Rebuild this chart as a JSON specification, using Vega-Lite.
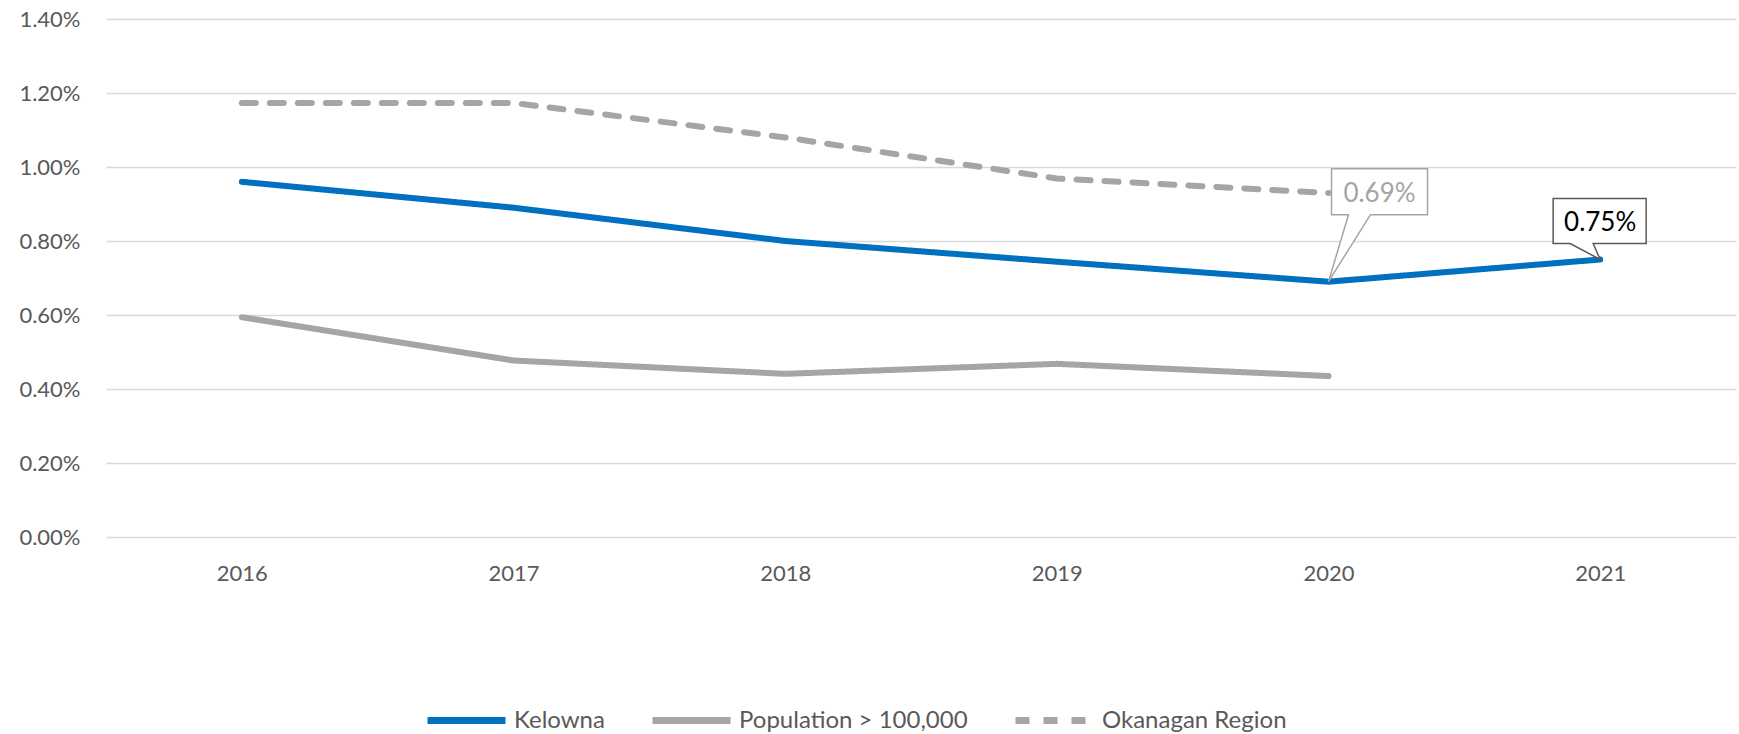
{
  "$schema": "https://vega.github.io/schema/vega-lite/v6.json",
  "width": 1630,
  "height": 518,
  "autosize": {"type": "none"},
  "padding": {"left": 106, "top": 19, "right": 3, "bottom": 197},
  "background": "white",
  "config": {
    "view": {"stroke": null},
    "font": "Lato",
    "axis": {
      "labelFont": "Lato",
      "labelColor": "#595959",
      "labelFontSize": 22,
      "gridColor": "#D9D9D9",
      "gridWidth": 1.5,
      "domain": false,
      "ticks": false,
      "title": null
    },
    "legend": {
      "labelFont": "Lato",
      "labelColor": "#595959",
      "labelFontSize": 24,
      "labelLimit": 500
    }
  },
  "datasets": {
    "series": [
      {"year": "2016", "series": "Kelowna", "value": 0.0096},
      {"year": "2017", "series": "Kelowna", "value": 0.0089},
      {"year": "2018", "series": "Kelowna", "value": 0.0080},
      {"year": "2019", "series": "Kelowna", "value": 0.00744},
      {"year": "2020", "series": "Kelowna", "value": 0.0069},
      {"year": "2021", "series": "Kelowna", "value": 0.0075},
      {"year": "2016", "series": "Population > 100,000", "value": 0.00594},
      {"year": "2017", "series": "Population > 100,000", "value": 0.00477},
      {"year": "2018", "series": "Population > 100,000", "value": 0.00441},
      {"year": "2019", "series": "Population > 100,000", "value": 0.00468},
      {"year": "2020", "series": "Population > 100,000", "value": 0.00435},
      {"year": "2016", "series": "Okanagan Region", "value": 0.01173},
      {"year": "2017", "series": "Okanagan Region", "value": 0.01173},
      {"year": "2018", "series": "Okanagan Region", "value": 0.0108},
      {"year": "2019", "series": "Okanagan Region", "value": 0.00969},
      {"year": "2020", "series": "Okanagan Region", "value": 0.0093}
    ],
    "callouts": [
      {"year": "2020", "value": 0.0069, "style": "muted"},
      {"year": "2021", "value": 0.0075, "style": "dark"}
    ]
  },
  "encoding": {
    "x": {
      "field": "year",
      "type": "ordinal",
      "scale": {"paddingInner": 0, "paddingOuter": 0},
      "axis": {"labelAngle": 0, "labelPadding": 26, "grid": false}
    },
    "y": {
      "field": "value",
      "type": "quantitative",
      "scale": {"domain": [0, 0.014], "nice": false},
      "axis": {
        "format": ".2%",
        "values": [0, 0.002, 0.004, 0.006, 0.008, 0.01, 0.012, 0.014],
        "labelPadding": 26,
        "grid": true
      }
    }
  },
  "layer": [
    {
      "data": {"name": "series"},
      "mark": {"type": "line", "strokeWidth": 6, "strokeCap": "round", "strokeJoin": "round"},
      "encoding": {
        "color": {
          "field": "series",
          "type": "nominal",
          "scale": {
            "domain": ["Kelowna", "Population > 100,000", "Okanagan Region"],
            "range": ["#0070C0", "#A5A5A5", "#A5A5A5"]
          },
          "legend": {
            "title": null,
            "orient": "none",
            "legendX": 318,
            "legendY": 659,
            "direction": "horizontal",
            "gridAlign": "none",
            "symbolType": "stroke",
            "symbolSize": 6084,
            "symbolStrokeWidth": 7,
            "labelOffset": 5,
            "columnPadding": 33
          }
        },
        "strokeDash": {
          "field": "series",
          "type": "nominal",
          "scale": {
            "domain": ["Kelowna", "Population > 100,000", "Okanagan Region"],
            "range": [[1, 0], [1, 0], [14, 14]]
          },
          "legend": null
        }
      }
    },
    {
      "data": {"name": "callouts"},
      "transform": [{"filter": "datum.style === 'muted'"}],
      "mark": {
        "type": "point",
        "shape": "M0,0 L20,-67 L3,-67 L3,-113 L99,-113 L99,-67 L42,-67 Z",
        "size": 4,
        "filled": true,
        "fill": "white",
        "fillOpacity": 1,
        "stroke": "#A5A5A5",
        "strokeWidth": 1.5,
        "opacity": 1
      }
    },
    {
      "data": {"name": "callouts"},
      "transform": [{"filter": "datum.style === 'muted'"}],
      "mark": {"type": "text", "dx": 51, "dy": -88, "fontSize": 26, "color": "#A5A5A5", "font": "Lato"},
      "encoding": {"text": {"field": "value", "type": "quantitative", "format": ".2%"}}
    },
    {
      "data": {"name": "callouts"},
      "transform": [{"filter": "datum.style === 'dark'"}],
      "mark": {
        "type": "point",
        "shape": "M0,0 L-7,-16 L46,-16 L46,-61 L-47,-61 L-47,-16 L-30,-16 Z",
        "size": 4,
        "filled": true,
        "fill": "white",
        "fillOpacity": 1,
        "stroke": "#595959",
        "strokeWidth": 1.5,
        "opacity": 1
      }
    },
    {
      "data": {"name": "callouts"},
      "transform": [{"filter": "datum.style === 'dark'"}],
      "mark": {"type": "text", "dx": 0, "dy": -37, "fontSize": 26, "color": "#000000", "font": "Lato"},
      "encoding": {"text": {"field": "value", "type": "quantitative", "format": ".2%"}}
    }
  ]
}
